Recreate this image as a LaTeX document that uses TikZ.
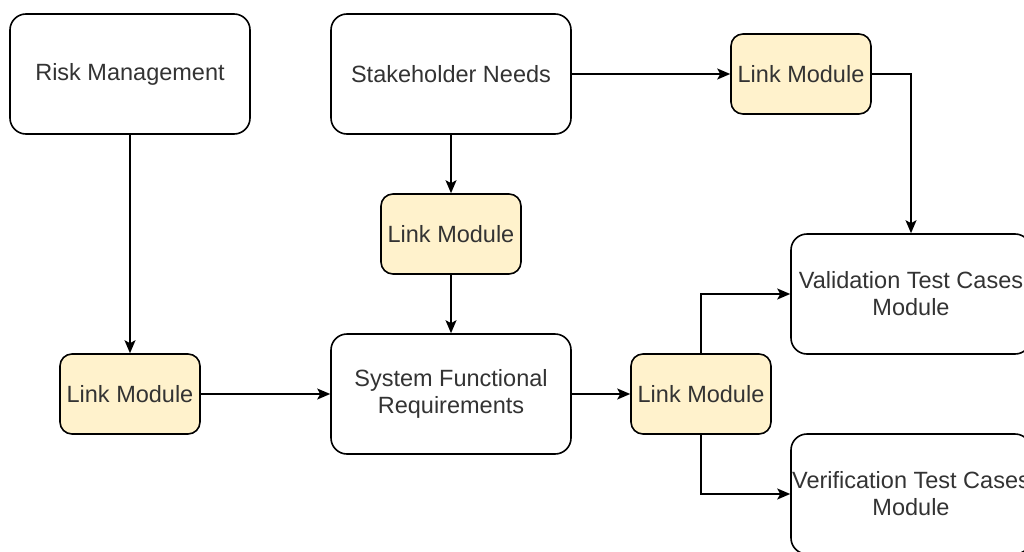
\documentclass[tikz,border=0pt]{standalone}
\usepackage{fontspec}
\setmainfont{Liberation Sans}
\usetikzlibrary{arrows.meta}
\definecolor{linkfill}{HTML}{FFF2CC}
\definecolor{txtgray}{HTML}{333333}
\tikzset{
  base/.style={draw=black, line width=1.6pt, align=center, text=txtgray,
    font=\fontsize{23.5}{27}\selectfont, inner sep=0pt},
  bigbox/.style={base, rounded corners=16pt, minimum width=240pt, minimum height=120pt, fill=white},
  linkbox/.style={base, rounded corners=12pt, minimum width=140pt, minimum height=80pt, fill=linkfill},
  conn/.style={line width=1.6pt, -{Stealth[length=13pt,width=11pt,inset=3pt]}}
}
\begin{document}
\begin{tikzpicture}[x=1pt,y=-1pt]
\useasboundingbox (0,0) rectangle (1024,551);
\clip (0,0) rectangle (1024,551);

% main modules
\node[bigbox] (risk) at (130,74) {Risk Management};
\node[bigbox] (stake) at (451,74) {Stakeholder Needs};
\node[bigbox] (sfr) at (451,394) {System Functional\\Requirements};
\node[bigbox] (valid) at (911,294) {Validation Test Cases\\Module};
\node[bigbox] (verif) at (911,494) {Verification Test Cases\\Module};

% link modules
\node[linkbox] (lkTop) at (801,74) {Link Module};
\node[linkbox] (lkMid) at (451,234) {Link Module};
\node[linkbox] (lkLeft) at (130,394) {Link Module};
\node[linkbox] (lkRight) at (701,394) {Link Module};

% connectors
\draw[conn] (risk) -- (lkLeft);
\draw[conn] (lkLeft) -- (sfr);
\draw[conn] (stake) -- (lkMid);
\draw[conn] (lkMid) -- (sfr);
\draw[conn] (stake) -- (lkTop);
\draw[conn] (lkTop.east) -| (valid.north);
\draw[conn] (sfr) -- (lkRight);
\draw[conn] (lkRight.north) |- (valid.west);
\draw[conn] (lkRight.south) |- (verif.west);
\end{tikzpicture}
\end{document}
